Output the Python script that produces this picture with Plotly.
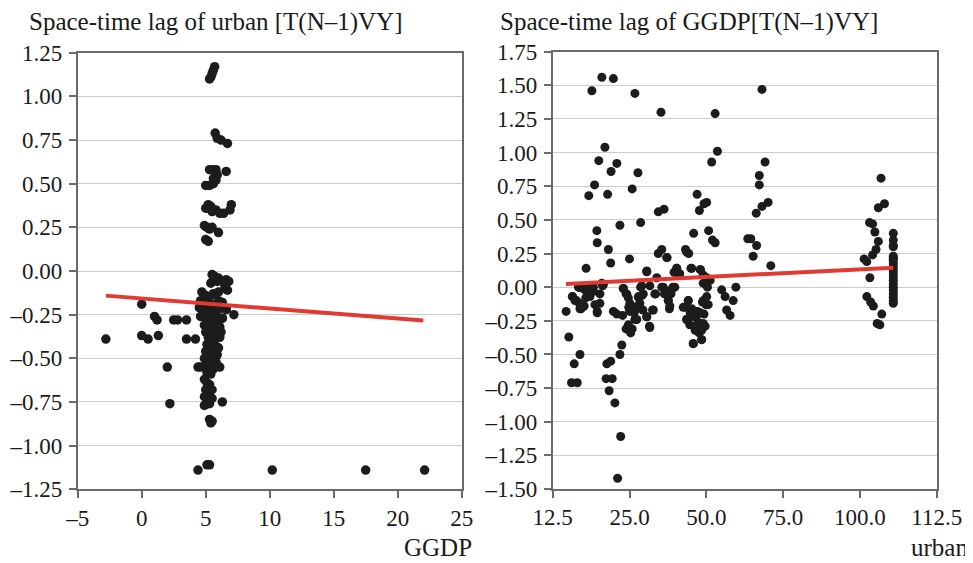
import plotly.graph_objects as go

# ---------------- Left panel: GGDP vs space-time lag of urban ----------------
left_x = [
    -2.8, 0.0, 0.0, 0.5, 1.3, 1.0, 1.2, 2.0, 2.2, 2.5, 2.8, 3.5, 3.5, 4.2, 4.4,
    4.4, 5.1, 5.3, 10.2, 17.5, 22.1, 6.3, 7.2, 6.6, 6.3, 6.1,
    5.7, 5.6, 5.5, 5.4, 5.3,
    5.74, 5.9, 6.2, 6.7,
    5.3, 5.6, 5.8, 6.6,
    5.0, 5.3, 5.6, 5.8, 5.9, 5.6,
    5.0, 5.2, 5.4, 5.8, 6.1, 6.4, 6.9, 7.0, 5.1, 5.5,
    4.9, 5.1, 5.3, 5.5, 6.0,
    5.0, 5.2,
    5.5, 5.7, 6.0, 6.6, 6.8, 6.5, 5.9, 5.6, 5.4,
    4.7, 5.0, 5.3, 5.6, 6.0, 6.5, 6.7,
    4.6, 4.9, 5.2, 5.5, 5.8, 6.0, 6.3,
    4.5, 4.8, 5.1, 5.4, 5.7, 6.0, 6.6,
    4.6, 5.0, 5.3, 5.6, 5.9, 6.3,
    4.9, 5.2, 5.5, 5.8, 6.1,
    5.0, 5.3, 5.6, 5.9, 6.2,
    5.2, 5.5, 5.8, 6.1,
    5.1, 5.4, 5.7, 6.0,
    5.0, 5.3, 5.6, 5.9,
    4.9, 5.2, 5.5, 5.8,
    4.6, 5.0, 5.3, 5.6,
    5.1, 5.4,
    4.9, 5.1, 5.3,
    5.0, 5.3, 5.5,
    4.9, 5.2, 5.5,
    4.9, 5.1, 5.3,
    5.3, 5.5, 5.4,
]
left_y = [
    -0.39, -0.19, -0.37, -0.39, -0.37, -0.26, -0.28, -0.55, -0.76, -0.28, -0.28, -0.28, -0.39, -0.39, -0.55,
    -1.14, -1.11, -1.11, -1.14, -1.14, -1.14, -0.27, -0.25, -0.22, -0.75, -0.55,
    1.17, 1.15, 1.13, 1.11, 1.10,
    0.79, 0.76, 0.75, 0.73,
    0.58, 0.58, 0.58, 0.57,
    0.49, 0.49, 0.50, 0.52, 0.55, 0.53,
    0.36, 0.38, 0.37, 0.35, 0.33, 0.33, 0.35, 0.38, 0.36, 0.34,
    0.26, 0.25, 0.24, 0.25, 0.22,
    0.18, 0.17,
    -0.02, -0.03, -0.04, -0.05, -0.06, -0.08, -0.06, -0.05, -0.07,
    -0.12, -0.14, -0.15, -0.13, -0.12, -0.10, -0.11,
    -0.17, -0.18, -0.19, -0.20, -0.19, -0.17, -0.18,
    -0.21, -0.22, -0.23, -0.22, -0.24, -0.22, -0.22,
    -0.26, -0.27, -0.28, -0.26, -0.27, -0.27,
    -0.31, -0.32, -0.31, -0.30, -0.32,
    -0.35, -0.36, -0.34, -0.36, -0.35,
    -0.38, -0.40, -0.38, -0.38,
    -0.42, -0.43, -0.42, -0.44,
    -0.46, -0.47, -0.46, -0.48,
    -0.50, -0.51, -0.50, -0.52,
    -0.55, -0.54, -0.55, -0.56,
    -0.58, -0.59,
    -0.62, -0.64, -0.65,
    -0.68, -0.69, -0.68,
    -0.72, -0.73, -0.73,
    -0.77, -0.76, -0.76,
    -0.85, -0.86, -0.87,
]
left_fit_x = [-2.8, 22.0]
left_fit_y = [-0.141, -0.284]
left_xticks = [-5, 0, 5, 10, 15, 20, 25]
left_yticks = [-1.25, -1.0, -0.75, -0.5, -0.25, 0.0, 0.25, 0.5, 0.75, 1.0, 1.25]

# ---------------- Right panel: urban vs space-time lag of GGDP ----------------
right_x = [
    21.2, 22.7, 25.3, 28.3, 33.9, 40.7, 54.8, 67.0, 26.1, 24.5, 29.2, 27.7, 34.7, 23.4, 33.2, 21.9,
    26.8, 30.0, 35.4, 24.0, 24.1, 27.0, 27.6, 32.5, 40.0, 41.5, 40.0, 40.9, 42.3, 37.0,
    50.1, 50.7, 51.9, 52.6, 49.2, 47.1, 47.9, 48.5, 51.0, 44.8, 44.1, 53.9, 55.4, 53.1, 54.1, 54.8,
    66.3, 66.3, 67.8, 65.5, 67.0, 68.6, 63.3, 64.1, 65.6, 64.7, 69.3,
    98.0, 97.3, 98.9, 95.0, 95.8, 96.4, 97.3, 95.8, 96.7, 93.6, 94.3, 95.1, 94.3, 95.3, 96.0, 98.2, 97.0, 97.7,
    16.0, 16.7, 19.6, 18.1, 17.4, 18.9, 17.6, 18.7, 19.6, 20.7, 19.4, 21.4, 22.2, 23.1, 23.5, 24.1,
    24.8, 24.8, 25.5, 26.6, 27.6, 26.4, 28.0, 27.2, 28.7, 30.0, 30.5, 30.2, 29.4,
    28.3, 29.2, 30.7, 30.9, 31.8, 31.6, 32.2, 32.8, 33.2, 32.3, 32.6, 33.7, 34.4, 34.6, 34.9, 35.8,
    36.0, 35.4, 37.0, 37.8, 37.8, 38.7, 39.3, 41.3, 41.6, 42.6, 42.9, 43.3, 43.8,
    46.5, 47.4, 47.8, 48.4, 48.2, 49.1, 49.6, 49.9, 50.2, 50.6, 51.3, 51.5, 51.7, 51.9, 52.4, 52.8,
    56.5, 57.4, 57.8, 58.7, 59.5, 60.2,
    37.0, 44.8, 45.6, 48.7, 50.9, 51.7, 52.6, 53.5, 42.2, 47.4,
    19.5, 20.9, 22.2, 23.1, 21.1, 21.8, 17.7, 18.3, 19.4, 19.9, 19.2, 20.5, 25.7, 25.3, 24.1,
    30.9, 31.6, 32.2, 32.6, 33.1, 32.6, 33.5, 34.4, 33.9, 34.8, 35.2, 35.7, 36.1, 37.0, 37.7,
    38.5, 39.1, 39.6, 40.9, 42.2, 42.6, 43.0, 43.5, 44.3, 45.2,
    47.0, 47.8, 47.4, 48.3, 48.7, 49.1, 49.6, 50.0, 50.4, 50.9, 51.3, 51.7, 52.2, 49.1, 51.3,
    52.6, 53.0, 51.7, 52.6,
    101.2, 101.2, 101.2, 101.2, 101.2, 101.2, 101.2, 101.2, 101.2, 101.2, 101.2, 101.2, 101.2, 101.2,
    101.2, 101.2, 101.2, 101.2, 101.2, 101.2,
]
right_y = [
    0.14, 1.46, 1.56, 1.55, 1.44, 1.30, 1.29, 1.47, 1.04, 0.94, 0.92, 0.86, 0.85, 0.76, 0.73, 0.68,
    0.69, 0.46, 0.48, 0.42, 0.33, 0.28, 0.18, 0.21, 0.56, 0.58, 0.25, 0.28, 0.22, 0.12,
    0.69, 0.57, 0.62, 0.63, 0.40, 0.28, 0.25, 0.14, 0.13, 0.14, 0.11, 0.93, 1.01, 0.42, 0.35, 0.33,
    0.83, 0.76, 0.93, 0.55, 0.60, 0.63, 0.36, 0.36, 0.31, 0.23, 0.16,
    0.81, 0.59, 0.62, 0.48, 0.47, 0.41, 0.34, 0.24, 0.28, 0.21, 0.19, 0.07, -0.07, -0.11, -0.14, -0.20, -0.27, -0.28,
    -0.18, -0.37, -0.50, -0.57, -0.71, -0.71, -0.07, -0.10, -0.16, -0.14, 0.00, -0.03, -0.07, 0.00, -0.13, -0.18,
    -0.05, -0.12, 0.01, -0.57, -0.55, -0.68, -0.68, -0.77, -0.86, -0.50, -0.43, -1.11, -1.42,
    -0.18, -0.20, -0.21, -0.01, -0.05, -0.31, -0.28, -0.34, -0.31, -0.15, -0.17, -0.19, -0.24, -0.14, -0.08, -0.06,
    -0.17, 0.00, -0.22, -0.30, 0.01, -0.17, -0.05, 0.00, -0.05, -0.10, -0.16, -0.05, 0.00,
    -0.15, -0.24, -0.10, -0.18, -0.28, -0.42, -0.32, -0.21, -0.18, -0.34, -0.39, -0.11, -0.27, -0.20, -0.13, 0.00,
    -0.02, -0.07, -0.17, -0.21, -0.10, 0.00,
    0.115, 0.14, 0.10, 0.14, 0.13, 0.09, 0.07, 0.05, 0.22, 0.26,
    0.00, -0.02, -0.01, -0.03, -0.08, -0.06, -0.07, -0.10, -0.12, -0.16, 0.00, -0.01, 0.02, 0.03, -0.19,
    -0.01, -0.05, -0.08, -0.12, -0.16, -0.18, -0.18, -0.16, -0.24, -0.07, -0.12, 0.01, -0.05, -0.22, -0.29,
    -0.17, -0.05, 0.07, 0.00, -0.03, -0.10, -0.14, -0.02, 0.00, 0.10,
    -0.15, -0.10, -0.24, -0.19, -0.16, -0.22, -0.29, -0.18, -0.26, -0.19, -0.32, -0.10, -0.29, -0.42, -0.39,
    -0.07, -0.13, 0.03, 0.05,
    0.40, 0.35, 0.31, 0.23, 0.20, 0.175, 0.15, 0.125, 0.10, 0.075, 0.05, 0.025, 0.00, -0.025,
    -0.05, -0.075, -0.10, -0.12, 0.30, 0.215,
]
right_fit_x = [15.96, 101.2]
right_fit_y = [0.024, 0.145]
right_xticks = [12.5, 32.5, 52.5, 72.5, 92.5, 112.5]
right_xtick_labels = ["12.5", "25.0", "50.0", "75.0", "100.0", "112.5"]
right_yticks = [-1.5, -1.25, -1.0, -0.75, -0.5, -0.25, 0.0, 0.25, 0.5, 0.75, 1.0, 1.25, 1.5, 1.75]


def fmt(v, dec):
    s = f"{abs(v):.{dec}f}"
    return ("–" + s) if v < 0 else s


FONT = "Liberation Serif, Times New Roman, DejaVu Serif, serif"
TXT = "#1a1a1a"
DOT = "#1c1c1c"
RED = "#e03a33"
GRID = "#cccccc"
FRAME = "#6a6a6a"
FS_TICK = 23
FS_TITLE = 25
FS_AXT = 25

# The page has an 8px body margin, so the figure is 965x555 and all
# positions below are measured relative to that offset.
W, H = 965, 555

fig = go.Figure()
fig.add_trace(go.Scatter(x=left_x, y=left_y, mode="markers",
                         marker=dict(size=9.5, color=DOT), xaxis="x", yaxis="y",
                         showlegend=False, hoverinfo="skip"))
fig.add_trace(go.Scatter(x=left_fit_x, y=left_fit_y, mode="lines",
                         line=dict(color=RED, width=4), xaxis="x", yaxis="y",
                         showlegend=False, hoverinfo="skip"))
fig.add_trace(go.Scatter(x=right_x, y=right_y, mode="markers",
                         marker=dict(size=9, color=DOT), xaxis="x2", yaxis="y2",
                         showlegend=False, hoverinfo="skip"))
fig.add_trace(go.Scatter(x=right_fit_x, y=right_fit_y, mode="lines",
                         line=dict(color=RED, width=4), xaxis="x2", yaxis="y2",
                         showlegend=False, hoverinfo="skip"))

axis_common = dict(
    showline=True, linecolor=FRAME, linewidth=1.5, mirror=True,
    ticks="outside", ticklen=7, tickwidth=1.5, tickcolor=FRAME,
    tickfont=dict(family=FONT, size=FS_TICK, color=TXT),
    zeroline=False, automargin=False,
)

fig.update_layout(
    width=W, height=H,
    margin=dict(l=0, r=0, t=0, b=0),
    paper_bgcolor="white", plot_bgcolor="white",
    font=dict(family=FONT, color=TXT),
    xaxis=dict(domain=[69.7 / W, 453.7 / W], range=[-5, 25], tickvals=left_xticks,
               ticktext=[fmt(v, 0) for v in left_xticks], showgrid=False,
               anchor="y", **axis_common),
    yaxis=dict(domain=[1 - 481.3 / H, 1 - 44.7 / H], range=[-1.25, 1.25], tickvals=left_yticks,
               ticktext=[fmt(v, 2) for v in left_yticks], showgrid=True,
               gridcolor=GRID, gridwidth=1, anchor="x", ticklabelstandoff=2, **axis_common),
    xaxis2=dict(domain=[544.7 / W, 928.7 / W], range=[12.5, 112.5], tickvals=right_xticks,
                ticktext=right_xtick_labels, showgrid=False, anchor="y2", **axis_common),
    yaxis2=dict(domain=[1 - 481.0 / H, 1 - 43.7 / H], range=[-1.5, 1.75], tickvals=right_yticks,
                ticktext=[fmt(v, 2) for v in right_yticks], showgrid=True,
                gridcolor=GRID, gridwidth=1, anchor="x2", ticklabelstandoff=2, **axis_common),
    annotations=[
        dict(text="Space-time lag of urban [T(N–1)VY]", x=19 / W, y=1 - 14 / H,
             xref="paper", yref="paper", xanchor="left", yanchor="middle",
             showarrow=False, font=dict(family=FONT, size=FS_TITLE, color=TXT)),
        dict(text="Space-time lag of GGDP[T(N–1)VY]", x=490 / W, y=1 - 14 / H,
             xref="paper", yref="paper", xanchor="left", yanchor="middle",
             showarrow=False, font=dict(family=FONT, size=FS_TITLE, color=TXT)),
        dict(text="GGDP", x=466 / W, y=1 - 539 / H,
             xref="paper", yref="paper", xanchor="right", yanchor="middle",
             showarrow=False, font=dict(family=FONT, size=FS_AXT, color=TXT)),
        dict(text="urban", x=962 / W, y=1 - 539 / H,
             xref="paper", yref="paper", xanchor="right", yanchor="middle",
             showarrow=False, font=dict(family=FONT, size=FS_AXT, color=TXT)),
    ],
)

fig.write_html("out.html")
